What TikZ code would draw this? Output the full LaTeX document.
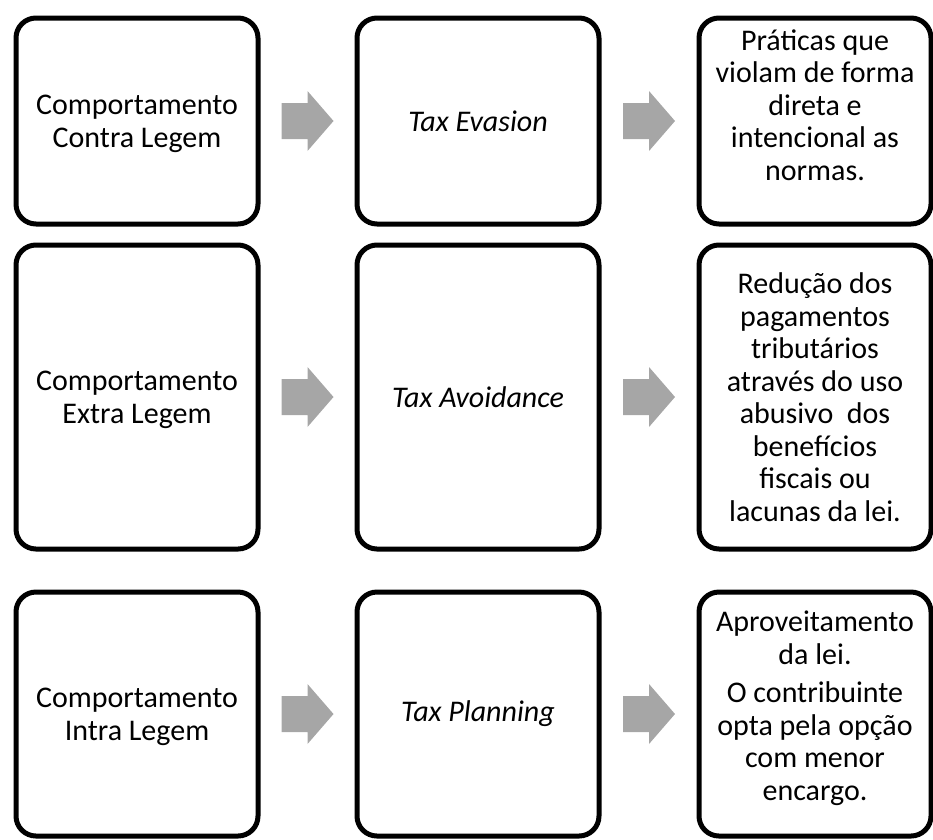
\documentclass[tikz,border=0pt]{standalone}
\usepackage{fontspec}
\setmainfont{Carlito}
\usetikzlibrary{calc}
\definecolor{arrgray}{HTML}{A6A6A6}
\newcommand{\blockarrow}[3]{%
  \path (#1.east) -- (#2.west) coordinate[pos=0.5] (#3);
  \fill[arrgray] ($(#3)+(-26,-18)$) -- ($(#3)+(0,-18)$) -- ($(#3)+(0,-30)$) -- ($(#3)+(26,0)$)
     -- ($(#3)+(0,30)$) -- ($(#3)+(0,18)$) -- ($(#3)+(-26,18)$) -- cycle;}
\begin{document}
\begin{tikzpicture}[x=1pt,y=-1pt,
  box/.style={draw, line width=5pt, rounded corners=20pt, inner sep=0pt},
  txt/.style={align=center, inner sep=0pt, font=\fontsize{30}{32.5}\selectfont},
  colA/.style={box, minimum width=242pt},
  colC/.style={box, minimum width=232pt},
  rowA/.style={minimum height=206pt},
  rowB/.style={minimum height=304pt},
  rowC/.style={minimum height=244pt}]
\useasboundingbox (0,0) rectangle (933,839);
% row 1
\node[colA,rowA] (a1) at (137,121) {};
\node[colA,rowA] (b1) at (478,121) {};
\node[colC,rowA] (c1) at (815,121) {};
\node[txt] (a1t) at ($(a1)+(0,3)$) {Comportamento\\Contra Legem};
\node[txt] (b1t) at (b1) {\itshape Tax Evasion};
\node[txt] (c1t) at ($(c1)+(0,-16)$) {Práticas que\\violam de forma\\direta e\\intencional as\\normas.};
% row 2
\node[colA,rowB] (a2) at (137,397) {};
\node[colA,rowB] (b2) at (478,397) {};
\node[colC,rowB] (c2) at (815,397) {};
\node[txt] (a2t) at ($(a2)+(0,3)$) {Comportamento\\Extra Legem};
\node[txt] (b2t) at (b2) {\itshape Tax Avoidance};
\node[txt] (c2t) at (c2) {Redução dos\\pagamentos\\tributários\\através do uso\\abusivo\ \ dos\\benefícios\\fiscais ou\\lacunas da lei.};
% row 3
\node[colA,rowC] (a3) at (137,714) {};
\node[colA,rowC] (b3) at (478,714) {};
\node[colC,rowC] (c3) at (815,714) {};
\node[txt] (a3t) at ($(a3)+(0,3)$) {Comportamento\\Intra Legem};
\node[txt] (b3t) at (b3) {\itshape Tax Planning};
\node[txt] (c3t) at ($(c3)+(0,-6)$) {Aproveitamento\\da lei.\\[6pt]O contribuinte\\opta pela opção\\com menor\\encargo.};
% arrows
\blockarrow{a1}{b1}{m1}
\blockarrow{b1}{c1}{m2}
\blockarrow{a2}{b2}{m3}
\blockarrow{b2}{c2}{m4}
\blockarrow{a3}{b3}{m5}
\blockarrow{b3}{c3}{m6}
\end{tikzpicture}
\end{document}
